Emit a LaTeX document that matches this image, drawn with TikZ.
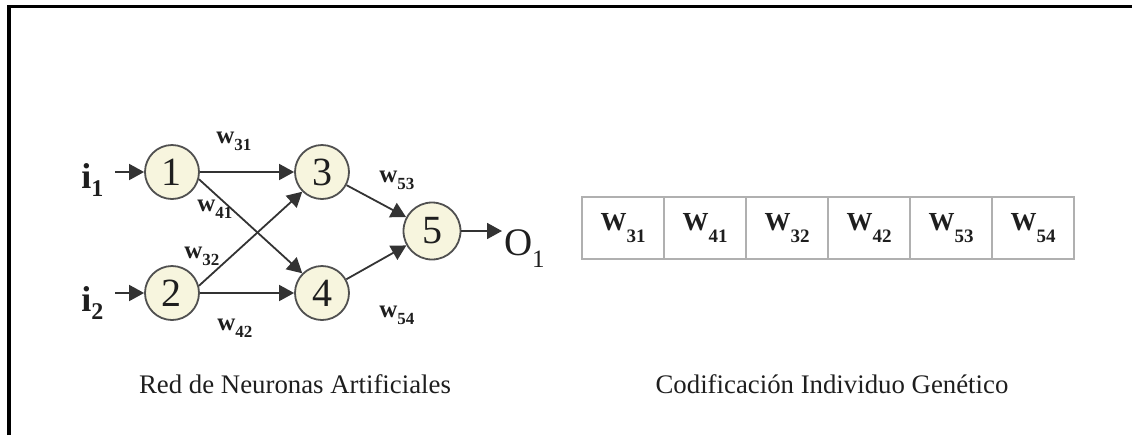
\documentclass[tikz,border=0pt]{standalone}
\usepackage{fontspec}
\setmainfont{Liberation Serif}
\usetikzlibrary{arrows.meta,calc}
\definecolor{nodefill}{HTML}{F7F5DE}
\definecolor{nodeline}{HTML}{505050}
\definecolor{cellline}{HTML}{B0B0B0}
\definecolor{txt}{HTML}{1E1E1E}
\newcommand{\wsub}[1]{{\fontsize{12.5}{12}\selectfont\bfseries w}\raisebox{-3.5pt}{\fontsize{8.5}{8}\selectfont\bfseries #1}}
\newcommand{\Wcell}[1]{{\fontsize{13}{13}\selectfont\bfseries W}\raisebox{-6pt}{\fontsize{9.5}{9}\selectfont\bfseries #1}}
\begin{document}
\begin{tikzpicture}[x=0.5pt,y=-0.5pt,
  neuron/.style={circle, draw=nodeline, fill=nodefill, line width=0.9pt,
    minimum size=27pt, inner sep=0pt, text=txt, font=\fontsize{20}{20}\selectfont},
  conn/.style={draw=black!80, line width=0.9pt, -{Triangle[length=7.5pt,width=8pt]}},
  wlabel/.style={anchor=base west, inner sep=0pt, text=txt},
  cell/.style={draw=cellline, line width=0.75pt, minimum width=41pt,
    minimum height=31pt, inner sep=0pt, text=txt},
  caption/.style={anchor=base, inner sep=0pt, text=txt, font=\fontsize{13.4}{14}\selectfont}]
\useasboundingbox (0,0) rectangle (1132,435);
% frame
\draw[line width=1.75pt] (9,435) -- (9,6.5) -- (1132,6.5);
% neurons
\node[neuron] (n1) at (172,172) {1};
\node[neuron] (n2) at (172,293) {2};
\node[neuron] (n3) at (322,172) {3};
\node[neuron] (n4) at (322,293) {4};
\node[neuron, minimum size=28.5pt] (n5) at (432,231) {5};
% inputs / output
\node[wlabel] (i1) at (81,188) {{\fontsize{18}{18}\selectfont\bfseries i}\raisebox{-4pt}{\fontsize{12}{12}\selectfont\bfseries 1}};
\node[wlabel] (i2) at (81,311) {{\fontsize{18}{18}\selectfont\bfseries i}\raisebox{-4pt}{\fontsize{12}{12}\selectfont\bfseries 2}};
\coordinate (i1s) at (115,172);
\coordinate (i2s) at (115,293);
\node[wlabel, outer sep=1pt] (o1) at (502,255) {{\fontsize{19.5}{19}\selectfont O}\raisebox{-6pt}{\fontsize{12.5}{12}\selectfont 1}};
% connectors
\draw[conn] (i1s) -- (n1);
\draw[conn] (i2s) -- (n2);
\draw[conn] (n1) -- (n3);
\draw[conn] (n2) -- (n4);
\draw[conn] (n1.-15) -- (n4.135);
\draw[conn] (n2.15) -- (n3.-135);
\draw[conn] (n3) -- (n5);
\draw[conn] (n4) -- (n5);
\draw[conn] (n5) -- (n5 -| o1.west);
% weight labels
\node[wlabel] (w31) at (216,143) {\wsub{31}};
\node[wlabel] (w41) at (197,211) {\wsub{41}};
\node[wlabel] (w32) at (184,258) {\wsub{32}};
\node[wlabel] (w42) at (217,330) {\wsub{42}};
\node[wlabel] (w53) at (379,182) {\wsub{53}};
\node[wlabel] (w54) at (379,317) {\wsub{54}};
% chromosome
\node[cell] (c1) at (623,228) {\Wcell{31}};
\node[cell] (c2) at (705,228) {\Wcell{41}};
\node[cell] (c3) at (787,228) {\Wcell{32}};
\node[cell] (c4) at (869,228) {\Wcell{42}};
\node[cell] (c5) at (951,228) {\Wcell{53}};
\node[cell] (c6) at (1033,228) {\Wcell{54}};
% captions
\node[caption] (cap1) at (295,393) {Red de Neuronas Artificiales};
\node[caption] (cap2) at (832,393) {Codificación Individuo Genético};
\end{tikzpicture}
\end{document}
